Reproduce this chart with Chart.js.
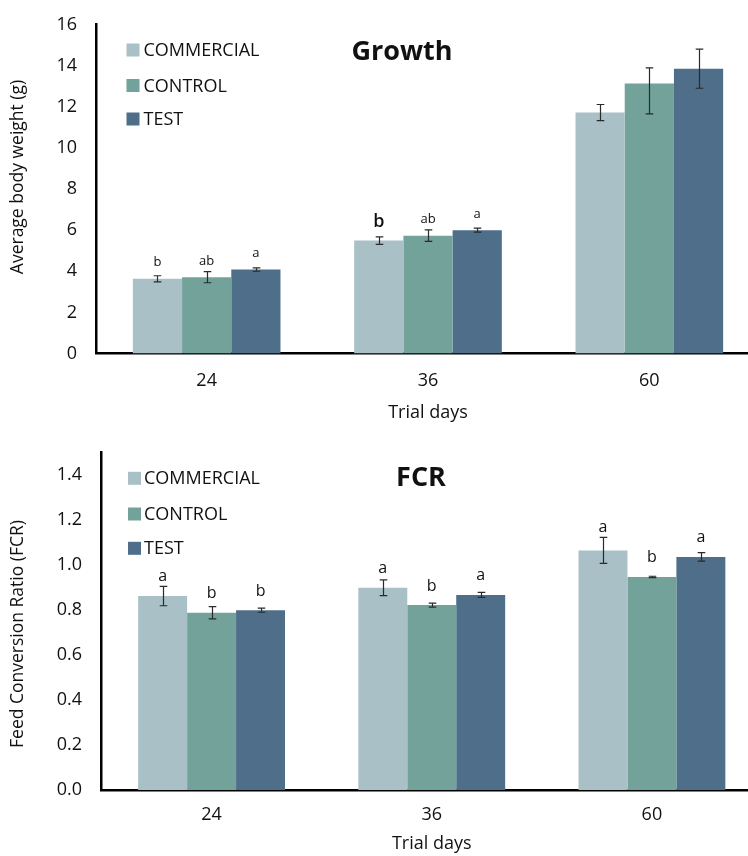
<!DOCTYPE html>
<html>
<head>
<meta charset="utf-8">
<script src="https://cdn.jsdelivr.net/npm/chart.js@4"></script>
<style>
  html, body { margin: 0; padding: 0; background: #fff; overflow: hidden; width: 748px; height: 856px; }
  #c1 { position: absolute; left: 0; top: 0; }
  #c2 { position: absolute; left: 0; top: 428px; }
</style>
</head>
<body>
<canvas id="c1" width="770" height="430"></canvas>
<canvas id="c2" width="770" height="428"></canvas>
<script>
// ---------- DATA ----------
const categories = ['24', '36', '60'];
const seriesNames = ['COMMERCIAL', 'CONTROL', 'TEST'];

// Growth: average body weight (g)
const growthCommercial = [3.63, 5.49, 11.72];
const growthControl    = [3.71, 5.73, 13.13];
const growthTest       = [4.08, 6.00, 13.85];
const growthErrUpCommercial   = [0.15, 0.18, 0.39];
const growthErrDownCommercial = [0.15, 0.18, 0.39];
const growthErrUpControl      = [0.27, 0.28, 0.76];
const growthErrDownControl    = [0.27, 0.28, 1.48];
const growthErrUpTest         = [0.08, 0.10, 0.95];
const growthErrDownTest       = [0.08, 0.10, 0.95];
const growthLettersCommercial = ['b', 'b', ''];
const growthLettersControl    = ['ab', 'ab', ''];
const growthLettersTest       = ['a', 'a', ''];
const growthTicks = [0, 2, 4, 6, 8, 10, 12, 14, 16];

// FCR: feed conversion ratio
const fcrCommercial = [0.862, 0.899, 1.065];
const fcrControl    = [0.788, 0.822, 0.947];
const fcrTest       = [0.799, 0.867, 1.036];
const fcrErrCommercial = [0.043, 0.035, 0.058];
const fcrErrControl    = [0.027, 0.009, 0.003];
const fcrErrTest       = [0.009, 0.011, 0.019];
const fcrLettersCommercial = ['a', 'a', 'a'];
const fcrLettersControl    = ['b', 'b', 'b'];
const fcrLettersTest       = ['b', 'a', 'a'];
const fcrTicks = [0.0, 0.2, 0.4, 0.6, 0.8, 1.0, 1.2, 1.4];

// ---------- STYLE ----------
const colors = ['#A9C0C7', '#73A29A', '#4E6E8A'];
const FONT = '"Open Sans", "Noto Sans", sans-serif';
const TEXT = '#111111';

const annotPlugin = {
  id: 'annot',
  afterDatasetsDraw(chart, args, o) {
    const ctx = chart.ctx;
    const ys = chart.scales.y;
    ctx.save();
    chart.data.datasets.forEach((ds, di) => {
      const meta = chart.getDatasetMeta(di);
      meta.data.forEach((bar, i) => {
        const v = ds.data[i];
        const yTop = ys.getPixelForValue(v + o.errUp[di][i]);
        const yBot = ys.getPixelForValue(v - o.errDown[di][i]);
        const x = Math.round(bar.x) + 0.5;
        ctx.strokeStyle = '#2a2a2a';
        ctx.lineWidth = 1.2;
        ctx.beginPath();
        ctx.moveTo(x, yTop); ctx.lineTo(x, yBot);
        ctx.moveTo(x - 3.8, yTop); ctx.lineTo(x + 3.8, yTop);
        ctx.moveTo(x - 3.8, yBot); ctx.lineTo(x + 3.8, yBot);
        ctx.stroke();
        const txt = o.letters[di][i];
        if (txt) {
          const big = o.big && o.big.some(p => p[0] === di && p[1] === i);
          const size = big ? o.bigSize : o.letterSize;
          const gap = big ? o.bigGap : o.letterGap;
          ctx.font = (big ? '600 ' : '') + size + 'px ' + FONT;
          ctx.fillStyle = TEXT;
          ctx.textAlign = 'center';
          ctx.textBaseline = 'alphabetic';
          const base = Math.min(bar.y - gap, yTop - 5);
          ctx.fillText(txt, bar.x, base);
        }
      });
    });
    // legend
    ctx.font = '18px ' + FONT;
    ctx.textBaseline = 'middle';
    ctx.textAlign = 'left';
    chart.data.datasets.forEach((ds, di) => {
      const cy = o.legendRows[di];
      ctx.fillStyle = ds.backgroundColor;
      ctx.fillRect(o.legendBoxX, cy - 6.5, 13, 13);
      ctx.fillStyle = TEXT;
      ctx.fillText(ds.label, o.legendTextX, cy + 1);
    });
    // chart title
    ctx.font = 'bold 27px ' + FONT;
    ctx.textAlign = 'center';
    ctx.fillText(o.title, o.titleX, o.titleY);
    // y axis title
    ctx.translate(o.yTitleX, o.yTitleY);
    ctx.rotate(-Math.PI / 2);
    ctx.font = '17.5px ' + FONT;
    ctx.fillText(o.yTitle, 0, 0);
    ctx.restore();
  }
};

function makeChart(id, cfg) {
  const datasets = seriesNames.map((name, k) => ({
    label: name,
    data: cfg.series[k],
    backgroundColor: colors[k],
    borderWidth: 0,
    categoryPercentage: 0.667,
    barPercentage: 1.0
  }));
  return new Chart(document.getElementById(id), {
    type: 'bar',
    data: { labels: categories, datasets },
    options: {
      responsive: false,
      animation: false,
      devicePixelRatio: 1,
      layout: { padding: cfg.padding },
      plugins: {
        legend: { display: false },
        tooltip: { enabled: false },
        annot: cfg.annot
      },
      scales: {
        x: {
          grid: { display: false, drawTicks: false },
          border: { display: true, color: '#000', width: 2.5 },
          ticks: { color: TEXT, font: { family: FONT, size: 18 }, padding: cfg.xTickPad },
          title: { display: true, text: 'Trial days', color: TEXT,
                   font: { family: FONT, size: 18 }, padding: { top: 0, bottom: cfg.xTitlePad } },
          afterFit(s) { s.height = cfg.xHeight; s.paddingLeft = 0; s.paddingRight = 0; }
        },
        y: {
          min: cfg.yTicks[0],
          max: cfg.yMax,
          grid: { display: false, drawTicks: false },
          border: { display: true, color: '#000', width: 2.5 },
          ticks: {
            stepSize: cfg.yTicks[1] - cfg.yTicks[0],
            color: TEXT, font: { family: FONT, size: 18 }, padding: cfg.yTickPad,
            callback: (v) => cfg.fmt(v)
          },
          afterBuildTicks(s) {
            s.ticks = cfg.yTicks.map(v => ({ value: v }));
          },
          afterFit(s) { s.width = cfg.yWidth; s.paddingTop = 0; s.paddingBottom = 0; }
        }
      }
    },
    plugins: [annotPlugin]
  });
}

makeChart('c1', {
  series: [growthCommercial, growthControl, growthTest],
  yTicks: growthTicks, yMax: 16,
  fmt: v => String(v),
  padding: { top: 24.5, right: 10, bottom: 0, left: 0 },
  xHeight: 76.5, xTickPad: 17, xTitlePad: 6.5, yWidth: 96, yTickPad: 19,
  annot: {
    errUp: [growthErrUpCommercial, growthErrUpControl, growthErrUpTest],
    errDown: [growthErrDownCommercial, growthErrDownControl, growthErrDownTest],
    letters: [growthLettersCommercial, growthLettersControl, growthLettersTest],
    big: [[0, 1]], letterSize: 13, letterGap: 12.5, bigSize: 18, bigGap: 14,
    legendRows: [50, 85.5, 119], legendBoxX: 126.5, legendTextX: 143.5,
    title: 'Growth', titleX: 402, titleY: 52,
    yTitle: 'Average body weight (g)', yTitleX: 18, yTitleY: 177
  }
});

makeChart('c2', {
  series: [fcrCommercial, fcrControl, fcrTest],
  yTicks: fcrTicks, yMax: 1.5,
  fmt: v => v.toFixed(1),
  padding: { top: 24.5, right: 8, bottom: 0, left: 0 },
  xHeight: 66, xTickPad: 14, xTitlePad: 1.5, yWidth: 101.5, yTickPad: 19.5,
  annot: {
    errUp: [fcrErrCommercial, fcrErrControl, fcrErrTest],
    errDown: [fcrErrCommercial, fcrErrControl, fcrErrTest],
    letters: [fcrLettersCommercial, fcrLettersControl, fcrLettersTest],
    big: [], letterSize: 16, letterGap: 14.5, bigSize: 16, bigGap: 14.5,
    legendRows: [50.3, 86, 120.3], legendBoxX: 128, legendTextX: 144,
    title: 'FCR', titleX: 421, titleY: 50,
    yTitle: 'Feed Conversion Ratio (FCR)', yTitleX: 18, yTitleY: 206
  }
});
</script>
</body>
</html>
